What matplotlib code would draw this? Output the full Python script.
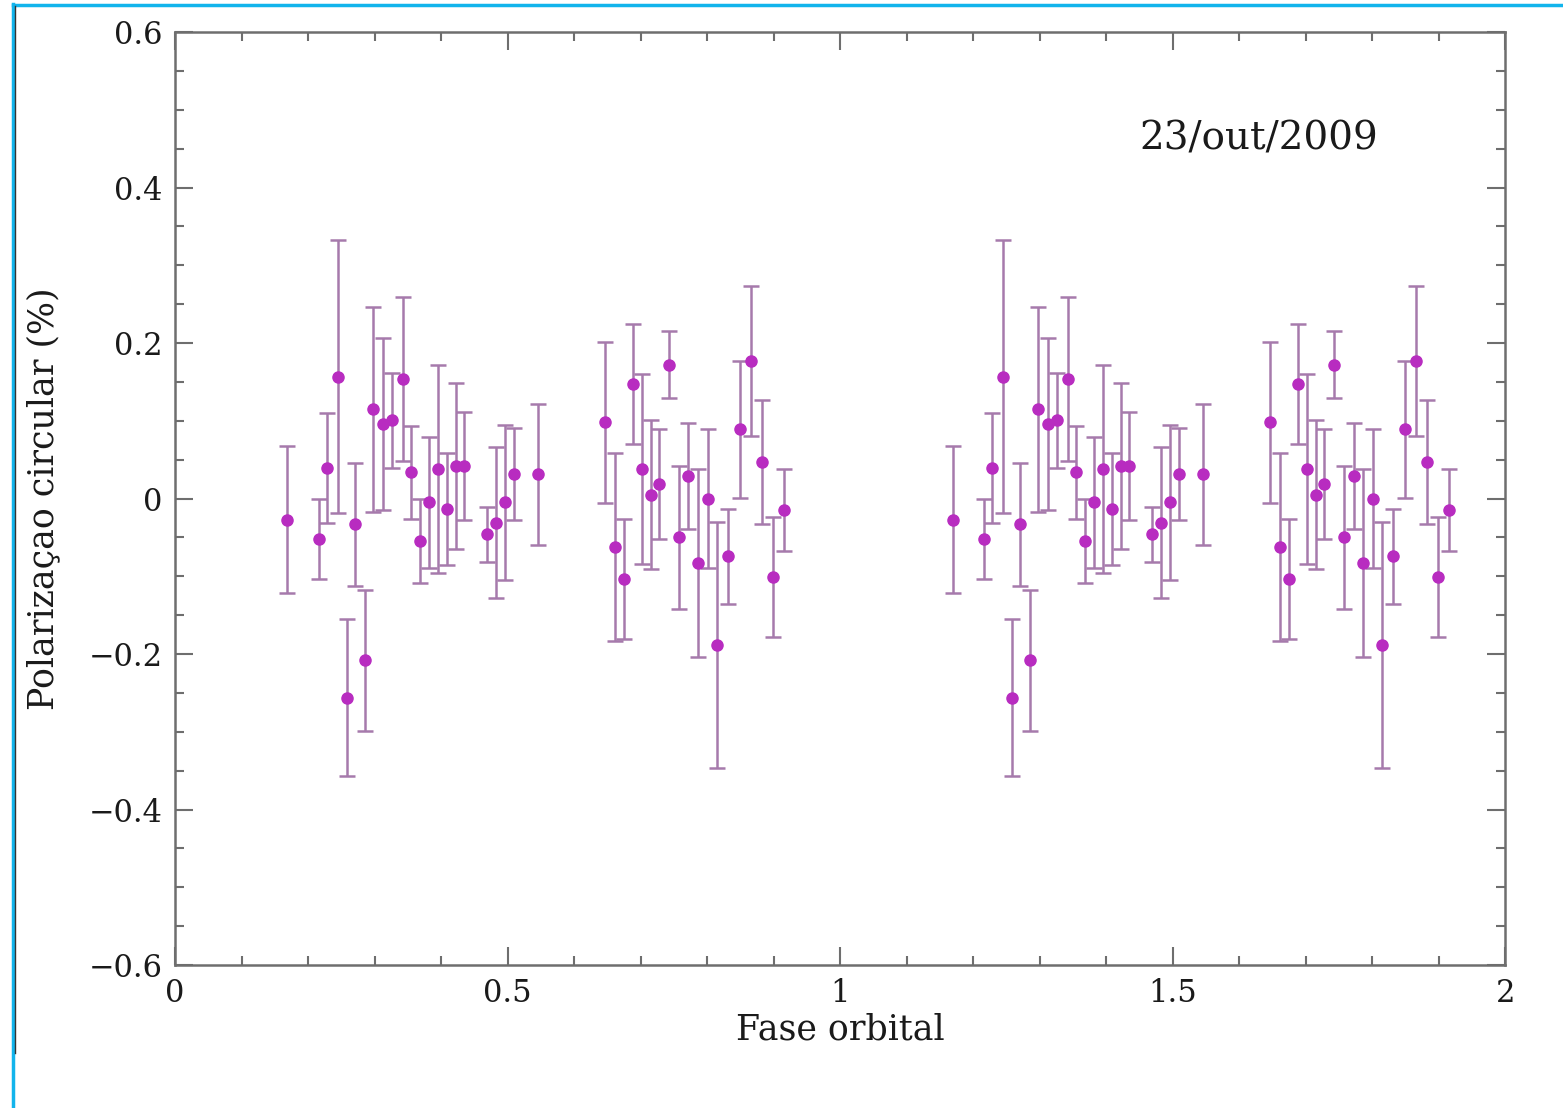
import numpy as np
import matplotlib
matplotlib.use("Agg")
from matplotlib import pyplot as plt
from matplotlib.ticker import MultipleLocator, FuncFormatter
from matplotlib.lines import Line2D


# Circular polarization vs orbital phase, 23/out/2009 (one cycle, plotted twice)
phase = [0.169, 0.217, 0.229, 0.245, 0.258, 0.271, 0.285, 0.298, 0.312, 0.326,
         0.342, 0.355, 0.368, 0.382, 0.395, 0.409, 0.422, 0.435, 0.469, 0.483,
         0.496, 0.510, 0.545,
         0.647, 0.662, 0.675, 0.688, 0.702, 0.715, 0.728, 0.742, 0.757, 0.772,
         0.786, 0.801, 0.815, 0.831, 0.849, 0.866, 0.883, 0.899, 0.915]
polcirc = [-0.027, -0.052, 0.039, 0.157, -0.256, -0.033, -0.208, 0.115, 0.096, 0.101,
           0.154, 0.034, -0.054, -0.005, 0.038, -0.013, 0.042, 0.042, -0.046, -0.031,
           -0.005, 0.032, 0.031,
           0.098, -0.062, -0.103, 0.147, 0.038, 0.005, 0.019, 0.172, -0.050, 0.029,
           -0.083, 0.000, -0.188, -0.074, 0.089, 0.177, 0.047, -0.101, -0.015]
err = [0.095, 0.051, 0.071, 0.175, 0.101, 0.079, 0.091, 0.132, 0.111, 0.061,
       0.105, 0.060, 0.054, 0.084, 0.134, 0.072, 0.107, 0.070, 0.035, 0.097,
       0.100, 0.059, 0.091,
       0.104, 0.121, 0.077, 0.077, 0.122, 0.096, 0.071, 0.043, 0.092, 0.068,
       0.121, 0.089, 0.158, 0.061, 0.088, 0.096, 0.080, 0.077, 0.053]

date_label = "23/out/2009"

x = np.concatenate([phase, np.array(phase) + 1])
y = np.concatenate([polcirc, polcirc])
e = np.concatenate([err, err])

plt.rcParams["font.family"] = ["DejaVu Serif"]
plt.rcParams["axes.unicode_minus"] = True

fig = plt.figure(figsize=(15.63, 11.08), dpi=100)
ax = fig.add_axes([0.112, 0.129, 0.851, 0.842])

ax.errorbar(x, y, yerr=e, fmt="o", color="#b82cc0", ms=8,
            ecolor="#a67aac", elinewidth=1.8, capsize=6, capthick=1.8, zorder=3)

ax.set_xlim(0, 2)
ax.set_ylim(-0.6, 0.6)
ax.xaxis.set_major_locator(MultipleLocator(0.5))
ax.xaxis.set_minor_locator(MultipleLocator(0.1))
ax.yaxis.set_major_locator(MultipleLocator(0.2))
ax.yaxis.set_minor_locator(MultipleLocator(0.05))
fmt = FuncFormatter(lambda v, p: ("%g" % round(v, 2)).replace("-", "\u2212"))
ax.xaxis.set_major_formatter(fmt)
ax.yaxis.set_major_formatter(fmt)

ax.tick_params(which="both", direction="in", top=True, right=True,
               color="#6e6e6e", width=1.5, labelsize=22, labelcolor="#1a1a1a")
ax.tick_params(which="major", length=13, pad=9)
ax.tick_params(which="minor", length=6.5)
for s in ax.spines.values():
    s.set_color("#6e6e6e")
    s.set_linewidth(1.8)

ax.set_xlabel("Fase orbital", fontsize=25, color="#1a1a1a", labelpad=3)
ax.set_ylabel("Polarizaçao circular (%)", fontsize=25, color="#1a1a1a",
              labelpad=20)
ax.text(0.725, 0.885, date_label, transform=ax.transAxes, fontsize=28,
        color="#1a1a1a", ha="left", va="center")

# frame lines of the original screenshot
fig.add_artist(Line2D([13 / 1563, 13 / 1563], [0, 1 - 4 / 1108],
                      transform=fig.transFigure, color="#12b4ec", lw=2.5))
fig.add_artist(Line2D([13 / 1563, 1], [1 - 5 / 1108, 1 - 5 / 1108],
                      transform=fig.transFigure, color="#12b4ec", lw=2.5))
fig.add_artist(Line2D([15.5 / 1563, 15.5 / 1563], [1 - 1053 / 1108, 1 - 6 / 1108],
                      transform=fig.transFigure, color="#333333", lw=1.0))

fig.savefig("out.png", dpi=100, facecolor="white")
